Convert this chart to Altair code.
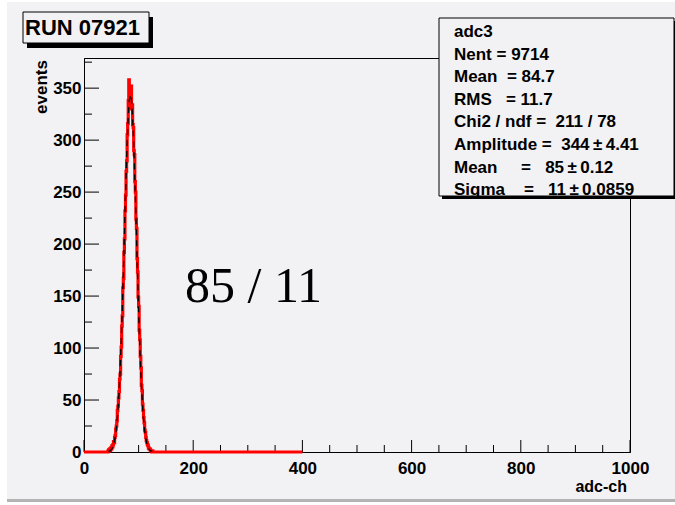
import altair as alt
import pandas as pd

# ---------------- data ----------------
x_domain = [0, 1000]
y_domain = [0, 379]

hist_first_edge = 44
hist_counts = [1, 2, 1, 3, 2, 4, 3, 6, 5, 7,
               10, 9, 14, 16, 22, 25, 30, 40, 44, 52,
               58, 70, 75, 92, 101, 121, 131, 158, 167, 192,
               205, 232, 247, 270, 280, 305, 316, 338, 358, 335,
               349, 341, 352, 330, 334, 315, 312, 290, 286, 260,
               250, 224, 215, 186, 173, 149, 140, 117, 108, 92,
               81, 64, 59, 46, 40, 33, 28, 21, 19, 14,
               11, 9, 7, 6, 4, 3, 3, 2, 1, 1,
               0, 1]
hist_range_end = 400

fit_x = [45, 47, 49, 51, 53, 55, 57, 59, 61, 63, 65, 67, 69, 71, 73, 75, 77, 79, 81, 83,
         85, 87, 89, 91, 93, 95, 97, 99, 101, 103, 105, 107, 109, 111, 113, 115, 117, 119,
         121, 123, 125]
fit_y = [0.5, 0.9, 1.6, 2.9, 5.0, 8.4, 13.5, 21.1, 31.9, 46.5, 65.9, 90.2, 119.4, 153.0,
         189.8, 227.6, 264.1, 296.5, 322.0, 338.4,
         344.0, 338.4, 322.0, 296.5, 264.1, 227.6, 189.8, 153.0, 119.4, 90.2, 65.9, 46.5,
         31.9, 21.1, 13.5, 8.4, 5.0, 2.9, 1.6, 0.9, 0.5]

x_label_values = [0, 200, 400, 600, 800, 1000]
x_major_ticks = [0, 200, 400, 600, 800, 1000]
x_minor_ticks = [50, 100, 150, 250, 300, 350, 450, 500, 550, 650, 700, 750, 850, 900, 950]
y_label_values = [0, 50, 100, 150, 200, 250, 300, 350]
y_major_ticks = [0, 50, 100, 150, 200, 250, 300, 350]
y_minor_ticks = [25, 75, 125, 175, 225, 275, 325, 375]

run_title = "RUN 07921"
x_title = "adc-ch"
y_title = "events"
annotation = "85 / 11"
S = "\u00a0"    # non-breaking space
T = "\u2009"    # thin space
stats_lines = [
    "adc3",
    "Nent" + S + "=" + S + "9714",
    "Mean" + S * 2 + "=" + S + "84.7",
    "RMS" + S * 3 + "=" + S + "11.7",
    "Chi2 / ndf" + S + "=" + S * 2 + "211 / 78",
    "Amplitude" + S + "=" + S * 2 + "344" + T + "\u00b1" + T + "4.41",
    "Mean" + S * 5 + "=" + S * 3 + "85" + T + "\u00b1" + T + "0.12",
    "Sigma" + S * 4 + "=" + S * 3 + "11" + T + "\u00b1" + T + "0.0859",
]

# ---------------- styling / layout ----------------
W, H = 546, 394
PL, PT = 84, 58
PR, PB = 675 - PL - W, 505 - PT - H
BG = "#f2f1f4"
FONT = "Liberation Sans"

xs = alt.Scale(domain=x_domain, nice=False, zero=False)
ys = alt.Scale(domain=y_domain, nice=False)

X_AXIS = alt.Axis(values=x_label_values, ticks=False, tickSize=0, grid=False,
                  domainColor="black", domainWidth=1, labelColor="black",
                  labelFont=FONT, labelFontWeight="bold", labelFontSize=17,
                  labelBaseline="alphabetic", labelPadding=21, labelFlush=False,
                  format="d", title=None, zindex=0)
Y_AXIS = alt.Axis(values=y_label_values, ticks=False, tickSize=0, grid=False,
                  domainColor="black", domainWidth=1, labelColor="black",
                  labelFont=FONT, labelFontWeight="bold", labelFontSize=17,
                  labelBaseline="middle", labelPadding=3, labelFlush=False,
                  format="d", title=None, zindex=0)

# histogram table built from the counts list
rows = [{"x": 0, "y": 0}]
for i, c in enumerate(hist_counts):
    rows.append({"x": hist_first_edge + i, "y": c})
rows.append({"x": hist_first_edge + len(hist_counts), "y": 0})
rows.append({"x": hist_range_end, "y": 0})
hist_df = pd.DataFrame(rows)

fit_df = pd.DataFrame({"x": fit_x, "y": fit_y})
one = pd.DataFrame({"k": [0]})


def rect(x1, x2, y1, y2, fill, stroke=None, sw=0):
    kw = dict(fill=fill, strokeWidth=sw)
    if stroke is not None:
        kw["stroke"] = stroke
    return alt.Chart(one).mark_rect(**kw).encode(
        x=alt.value(x1), x2=alt.value(x2), y=alt.value(y1), y2=alt.value(y2))


def text(s, x, y, size=17, weight="bold", align="left", font=FONT, angle=0,
         baseline="alphabetic"):
    kw = dict(font=font, fontSize=size, fontWeight=weight, align=align,
              baseline=baseline, color="black")
    if angle:
        kw["angle"] = angle
    return alt.Chart(one).mark_text(**kw).encode(
        x=alt.value(x), y=alt.value(y), text=alt.value(s))


hist = alt.Chart(hist_df).mark_line(interpolate="step-after", color="#ff0000",
                                    strokeWidth=3.2).encode(
    x=alt.X("x:Q", scale=xs, axis=X_AXIS),
    y=alt.Y("y:Q", scale=ys, axis=Y_AXIS),
)

fit = alt.Chart(fit_df).mark_line(color="black", strokeWidth=1.3,
                                  strokeDash=[6, 5]).encode(
    x=alt.X("x:Q", scale=xs, axis=X_AXIS),
    y=alt.Y("y:Q", scale=ys, axis=Y_AXIS),
)


def xticks(vals, length):
    return alt.Chart(pd.DataFrame({"x": vals})).mark_rule(
        color="black", strokeWidth=1).encode(
        x=alt.X("x:Q", scale=xs, axis=X_AXIS),
        y=alt.value(H), y2=alt.value(H - length))


def yticks(vals, length):
    return alt.Chart(pd.DataFrame({"y": vals})).mark_rule(
        color="black", strokeWidth=1).encode(
        y=alt.Y("y:Q", scale=ys, axis=Y_AXIS),
        x=alt.value(0), x2=alt.value(length))


layers = [
    # outer white margins and bottom gray bar of the canvas
    rect(-PL, 675 - PL, -PT, -PT + 2, "white"),
    rect(-PL, -PL + 7, -PT, 505 - PT, "white"),
    rect(-PL + 7, 675 - PL, 499 - PT, 502 - PT, "#b4b4b4"),
    rect(-PL, 675 - PL, 502 - PT, 505 - PT, "white"),
    xticks(x_major_ticks, 12),
    xticks(x_minor_ticks, 7),
    yticks(y_major_ticks, 15),
    yticks(y_minor_ticks, 8),
    hist,
    fit,
    # title box
    rect(23 - PL + 4, 149 - PL + 4, 12 - PT + 5, 43 - PT + 5, "black"),
    rect(23 - PL, 149 - PL, 12 - PT, 43 - PT, BG, "black", 1),
    text(run_title, 25 - PL, 35 - PT, size=22),
    # stats box
    rect(439 - PL + 3, 680 - PL, 18 - PT + 3, 196 - PT + 3, "black"),
    rect(439 - PL, 674 - PL, 18 - PT, 196 - PT, BG, "black", 1),
    text(annotation, 185 - PL, 302 - PT, size=50, weight="normal",
         font="Liberation Serif"),
    text(x_title, 627 - PL, 492 - PT, align="right", size=16),
    text(y_title, 47 - PL, 60 - PT, align="right", angle=270),
]
for i, line in enumerate(stats_lines):
    layers.append(text(line, 454 - PL, 37 - PT + i * 22.6))

chart = alt.layer(*layers).properties(
    width=W, height=H,
    background=BG,
    padding={"left": PL, "top": PT, "right": PR, "bottom": PB},
    autosize=alt.AutoSizeParams(type="none"),
).configure_view(stroke="black", strokeWidth=1)

chart.save("out.html", embed_options={"renderer": "svg", "actions": False})
